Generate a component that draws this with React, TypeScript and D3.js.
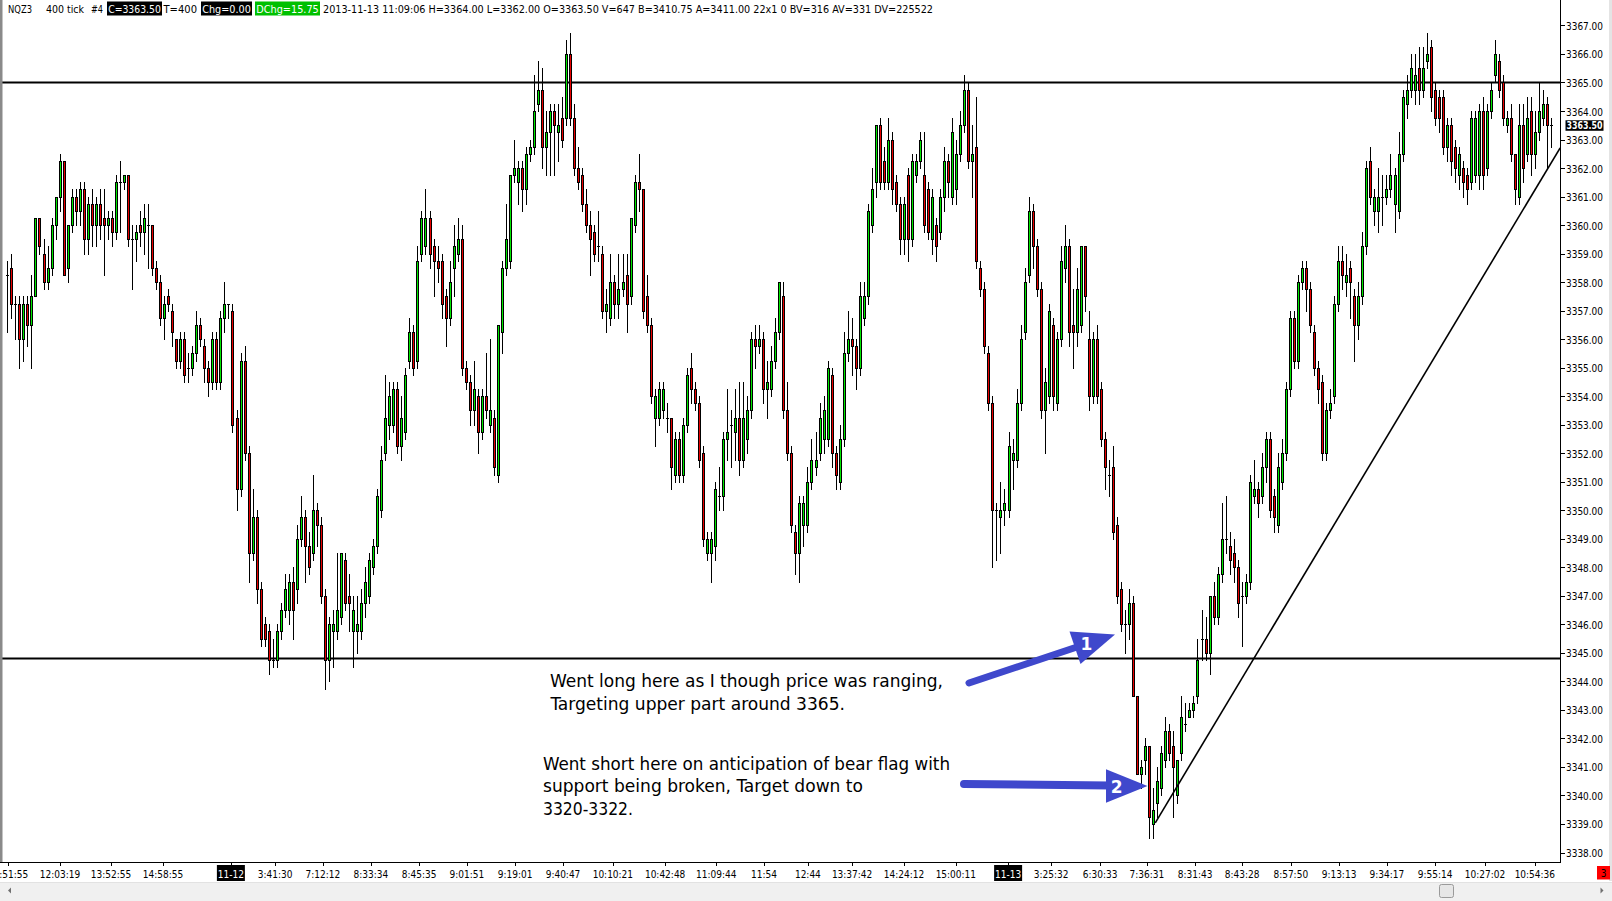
import React from 'react';
import * as d3 from 'd3';

type Candle = [number, number, number, number]; // open, high, low, close

const SEG_A: Candle[] = [
  [3358.25,3358.75,3356.25,3358.25],[3358.5,3359.0,3356.75,3357.25],[3357.25,3357.5,3356.0,3357.25],[3357.25,3357.5,3355.0,3356.0],
  [3356.0,3357.5,3355.25,3357.25],[3357.25,3357.5,3355.75,3356.5],[3356.5,3358.25,3355.0,3357.5],[3357.5,3360.25,3357.5,3360.25],
  [3360.25,3360.25,3359.0,3359.25],[3359.0,3359.5,3357.75,3358.0],[3358.0,3359.25,3357.75,3358.5],[3358.5,3360.25,3358.25,3360.0],
  [3360.0,3361.0,3359.5,3361.0],[3361.0,3362.5,3360.5,3362.25],[3362.25,3362.25,3358.25,3358.25],[3358.5,3360.0,3358.0,3360.0],
  [3360.0,3361.25,3359.75,3361.0],[3361.0,3361.25,3360.0,3360.5],[3360.5,3361.5,3360.0,3361.25],[3361.25,3361.5,3359.0,3359.5],
  [3359.5,3361.0,3359.0,3360.75],[3360.75,3361.25,3359.25,3360.0],[3360.0,3361.0,3359.25,3360.75],[3360.75,3361.25,3359.5,3360.0],
  [3360.25,3361.25,3358.25,3360.0],[3360.0,3360.5,3359.5,3360.25],[3360.25,3360.5,3359.25,3359.75],[3359.75,3361.75,3359.5,3361.5],
  [3361.5,3362.25,3359.75,3361.5],[3361.5,3361.75,3361.25,3361.75],[3361.75,3361.75,3359.25,3359.5],[3359.5,3360.0,3357.75,3359.5],
  [3359.5,3360.0,3358.75,3359.75],[3360.0,3360.5,3359.25,3359.75],[3359.75,3360.75,3359.0,3360.25],[3360.0,3360.75,3358.5,3360.0],
  [3360.0,3360.0,3358.25,3358.5],[3358.5,3358.75,3357.75,3358.0],[3358.0,3358.25,3356.5,3356.75],[3356.75,3357.5,3356.0,3357.25],
  [3357.5,3357.75,3357.0,3357.25],[3357.0,3357.25,3355.75,3356.25],[3356.0,3356.0,3355.0,3355.25],[3355.25,3356.25,3355.0,3356.0],
  [3356.0,3356.25,3354.5,3354.75],[3355.0,3355.5,3354.5,3355.0],[3355.0,3355.75,3354.75,3355.5],[3355.5,3357.0,3355.25,3356.5],
  [3356.5,3356.75,3355.75,3356.0],[3355.75,3356.0,3354.5,3355.0],
];

const SEG_B: Candle[] = [
  [3355.0,3355.25,3354.0,3354.5],[3354.5,3356.25,3354.25,3356.0],[3356.0,3356.25,3354.25,3354.5],[3354.5,3357.0,3354.25,3356.75],
  [3356.75,3358.0,3356.25,3357.25],[3357.25,3357.25,3356.75,3357.25],[3357.0,3357.25,3352.75,3353.0],[3353.25,3353.5,3350.0,3350.75],
  [3350.75,3355.5,3350.5,3355.25],[3355.25,3355.75,3351.75,3352.0],[3352.0,3352.25,3347.5,3348.5],[3348.5,3350.75,3348.25,3349.75],
  [3349.75,3350.0,3346.75,3347.25],[3347.25,3347.5,3345.25,3345.5],[3346.0,3346.25,3345.25,3345.5],[3345.75,3346.0,3344.25,3344.75],
  [3344.75,3345.5,3344.5,3344.75],[3344.75,3346.0,3344.5,3345.75],[3345.75,3346.75,3345.5,3346.5],[3346.5,3347.75,3346.25,3347.25],
  [3346.5,3347.75,3346.0,3347.5],[3347.5,3348.0,3345.5,3346.5],[3347.25,3349.5,3346.75,3349.0],[3349.0,3350.5,3348.75,3349.75],
  [3349.75,3350.0,3347.5,3348.75],[3348.75,3349.25,3347.75,3348.0],[3348.5,3351.25,3348.25,3350.0],[3350.0,3350.25,3348.75,3349.5],
  [3349.5,3349.75,3346.75,3347.0],[3347.0,3347.25,3343.75,3344.75],[3344.75,3346.25,3344.0,3346.0],[3345.75,3346.5,3344.5,3346.0],
  [3345.75,3348.5,3345.5,3346.5],[3346.25,3348.5,3346.0,3348.5],[3348.25,3348.5,3346.5,3346.75],[3347.0,3347.75,3345.75,3346.75],
  [3345.75,3347.0,3344.5,3346.5],[3345.75,3347.0,3345.0,3346.0],[3345.75,3347.25,3345.5,3346.75],[3346.75,3348.0,3346.25,3347.5],
  [3347.0,3348.5,3346.75,3348.25],[3348.0,3349.0,3347.75,3348.75],[3348.75,3350.75,3348.5,3350.5],[3350.0,3352.25,3349.75,3351.75],
  [3352.0,3354.75,3351.75,3353.25],[3353.0,3354.5,3352.5,3354.0],[3353.0,3354.5,3352.75,3354.25],[3354.25,3354.5,3352.0,3352.25],
  [3352.25,3354.0,3351.75,3353.25],[3352.75,3355.0,3352.5,3354.75],
];

const SEG_C: Candle[] = [
  [3355.25,3356.75,3355.0,3356.25],[3356.25,3356.5,3354.75,3355.0],[3355.25,3359.25,3355.0,3358.75],[3359.0,3360.5,3358.75,3360.25],
  [3359.25,3361.25,3359.0,3360.25],[3360.25,3360.5,3358.5,3359.0],[3359.25,3359.5,3357.5,3358.75],[3358.75,3359.25,3358.0,3358.5],
  [3358.75,3359.0,3356.75,3357.25],[3357.5,3357.75,3355.75,3356.75],[3356.75,3358.75,3356.5,3358.0],[3358.5,3360.0,3357.5,3359.25],
  [3359.0,3360.25,3358.75,3359.5],[3359.5,3360.0,3354.75,3355.0],[3355.0,3355.25,3354.25,3354.5],[3354.5,3354.75,3353.0,3353.5],
  [3353.5,3355.25,3353.0,3354.25],[3354.0,3354.25,3352.0,3352.75],[3352.75,3354.25,3352.5,3354.0],[3354.0,3355.5,3353.25,3353.5],
  [3353.0,3356.0,3352.75,3353.5],[3353.25,3353.5,3351.25,3351.5],[3351.25,3356.5,3351.0,3356.5],[3356.25,3358.75,3355.5,3358.5],
  [3358.5,3360.75,3358.25,3359.5],[3358.75,3361.75,3358.5,3361.75],[3361.75,3363.0,3361.5,3362.0],[3361.5,3362.25,3360.75,3362.0],
  [3362.0,3362.25,3360.5,3361.25],[3361.25,3362.75,3360.75,3362.5],[3362.5,3363.0,3362.25,3362.75],[3362.75,3365.25,3362.5,3364.0],
  [3364.25,3365.75,3364.0,3364.75],[3364.75,3365.5,3362.0,3362.75],[3362.75,3364.0,3361.75,3363.25],[3363.25,3364.25,3361.75,3364.0],
  [3364.0,3364.25,3361.75,3363.5],[3363.25,3364.25,3362.25,3363.5],[3363.75,3364.5,3362.75,3363.0],[3363.75,3366.5,3363.5,3366.0],
  [3366.0,3366.75,3363.5,3363.75],[3363.75,3364.25,3361.75,3362.0],[3362.0,3362.75,3361.25,3361.5],[3361.75,3362.0,3360.5,3360.75],
  [3360.75,3361.25,3359.75,3360.0],[3360.0,3360.5,3358.25,3359.5],[3359.75,3360.0,3358.75,3359.0],[3359.25,3360.5,3358.75,3359.25],
  [3359.0,3359.25,3356.75,3357.0],[3357.0,3357.75,3356.25,3357.25],
];

const SEG_D: Candle[] = [
  [3356.75,3359.0,3356.5,3358.0],[3358.0,3358.25,3356.75,3357.25],[3357.25,3359.0,3356.75,3357.75],[3357.75,3359.0,3357.5,3358.0],
  [3358.25,3359.0,3356.25,3357.25],[3357.5,3360.25,3357.25,3360.25],[3360.0,3361.75,3359.75,3361.5],[3361.5,3362.5,3360.5,3361.25],
  [3361.25,3361.25,3356.75,3357.0],[3357.5,3358.25,3356.25,3356.5],[3356.5,3356.75,3353.75,3354.0],[3353.25,3354.25,3352.25,3354.0],
  [3353.25,3354.5,3353.0,3354.25],[3353.5,3354.5,3353.25,3354.25],[3353.25,3353.75,3352.75,3353.25],[3353.25,3353.25,3350.75,3351.5],
  [3351.25,3352.75,3351.0,3352.5],[3352.5,3352.75,3351.0,3351.25],[3351.25,3353.25,3351.0,3353.0],[3353.0,3355.0,3352.75,3354.75],
  [3355.0,3355.5,3353.75,3354.25],[3354.25,3354.5,3353.5,3353.75],[3353.75,3354.0,3351.5,3351.75],[3352.0,3352.25,3348.75,3349.0],
  [3348.5,3349.25,3348.25,3349.0],[3348.5,3349.25,3347.5,3349.0],[3348.75,3351.0,3348.25,3350.75],[3350.5,3351.5,3350.0,3350.5],
  [3350.5,3352.75,3350.0,3352.5],[3352.5,3354.25,3351.75,3352.75],[3353.0,3353.5,3351.5,3353.0],[3352.75,3354.25,3351.75,3353.25],
  [3353.25,3354.5,3351.25,3351.75],[3351.75,3354.5,3351.5,3353.25],[3352.5,3354.0,3352.0,3353.5],[3353.5,3356.25,3353.25,3356.0],
  [3356.0,3356.5,3355.0,3355.75],[3355.75,3356.5,3355.5,3356.0],[3356.0,3356.25,3353.75,3354.25],[3354.25,3355.25,3353.25,3354.5],
  [3354.25,3355.75,3354.0,3355.25],[3355.25,3356.75,3355.0,3356.25],[3356.25,3358.0,3356.0,3358.0],[3357.5,3358.0,3353.25,3353.5],
  [3353.5,3354.5,3351.75,3352.0],[3352.0,3352.25,3349.25,3349.5],[3349.25,3349.5,3347.75,3348.5],[3348.5,3350.5,3347.5,3350.25],
  [3349.5,3350.5,3348.75,3350.25],[3349.5,3351.5,3349.25,3351.0],
];

const SEG_E: Candle[] = [
  [3351.0,3352.5,3350.75,3351.75],[3351.5,3352.75,3351.25,3351.75],[3352.0,3353.75,3351.75,3353.25],[3352.5,3354.0,3352.0,3353.5],
  [3352.5,3355.25,3352.25,3355.0],[3354.75,3355.0,3351.5,3352.0],[3352.0,3352.25,3350.75,3351.25],[3351.0,3353.0,3350.75,3352.5],
  [3352.5,3356.25,3352.25,3355.5],[3355.5,3357.0,3355.25,3356.0],[3356.0,3356.75,3354.75,3355.75],[3355.75,3356.0,3354.25,3355.0],
  [3355.0,3358.0,3354.75,3357.5],[3356.75,3358.0,3356.5,3357.5],[3357.5,3360.75,3357.25,3360.5],[3360.0,3362.0,3359.75,3361.25],
  [3361.5,3363.5,3361.0,3363.5],[3363.5,3363.75,3361.25,3361.5],[3362.25,3362.75,3361.25,3361.5],[3361.5,3363.75,3361.25,3363.0],
  [3363.0,3363.25,3360.75,3361.25],[3361.5,3361.75,3360.5,3360.75],[3360.75,3361.0,3359.0,3359.5],[3359.5,3361.0,3359.0,3360.75],
  [3361.75,3362.0,3358.75,3359.5],[3359.5,3362.5,3359.25,3362.25],[3361.75,3362.5,3361.5,3362.25],[3362.25,3363.25,3362.0,3363.0],
  [3361.75,3363.25,3359.75,3360.0],[3361.25,3361.5,3359.5,3359.75],[3359.5,3361.25,3359.0,3361.0],[3360.0,3360.25,3358.75,3359.25],
  [3359.75,3361.25,3359.5,3361.0],[3361.0,3362.75,3360.5,3362.25],[3362.25,3362.5,3361.0,3361.5],[3361.0,3363.75,3360.75,3363.25],
  [3361.25,3363.0,3360.75,3362.5],[3362.5,3364.0,3362.25,3363.5],[3363.5,3365.25,3363.25,3364.75],[3364.75,3365.0,3362.0,3362.25],
  [3362.25,3363.5,3361.0,3362.5],[3362.75,3364.5,3358.5,3358.75],[3358.5,3358.75,3357.5,3357.75],[3357.75,3358.0,3355.5,3355.75],
  [3355.5,3355.75,3353.5,3353.75],[3353.75,3354.0,3348.0,3350.0],[3350.0,3350.25,3348.25,3350.0],[3349.75,3351.0,3348.5,3350.0],
  [3350.0,3350.75,3349.5,3350.25],[3350.0,3352.75,3349.75,3352.25],
];

const SEG_F: Candle[] = [
  [3351.75,3352.5,3350.75,3352.0],[3351.75,3354.25,3351.5,3353.75],[3353.75,3356.5,3353.5,3356.0],[3356.25,3358.5,3356.0,3358.0],
  [3358.25,3361.0,3358.0,3360.5],[3360.5,3360.75,3358.5,3359.25],[3359.25,3359.5,3357.5,3357.75],[3357.75,3358.0,3353.25,3353.5],
  [3353.5,3355.0,3352.0,3354.5],[3354.0,3357.25,3353.75,3357.0],[3356.5,3356.75,3353.5,3354.0],[3353.75,3356.25,3353.5,3356.0],
  [3356.0,3359.25,3355.75,3358.75],[3358.5,3360.0,3358.0,3359.25],[3359.25,3359.5,3355.75,3356.25],[3356.5,3357.75,3355.0,3356.25],
  [3356.25,3358.5,3355.75,3357.75],[3356.5,3359.25,3356.25,3359.25],[3359.25,3359.25,3357.0,3357.5],[3356.0,3357.0,3353.5,3354.0],
  [3354.0,3356.25,3353.75,3356.0],[3356.0,3356.5,3353.75,3354.0],[3354.25,3354.5,3352.25,3352.5],[3352.5,3352.75,3350.75,3351.5],
  [3351.25,3351.75,3350.5,3351.25],[3351.5,3352.25,3349.0,3349.25],[3349.5,3349.75,3346.75,3347.0],[3347.25,3347.5,3345.75,3346.0],
  [3346.0,3346.5,3345.0,3346.0],[3346.0,3347.25,3345.5,3346.75],[3346.75,3347.0,3343.5,3343.5],[3343.5,3343.5,3340.75,3340.75],
  [3340.75,3341.25,3340.25,3341.0],[3341.25,3342.0,3340.75,3341.75],[3341.75,3341.75,3338.5,3339.25],[3339.0,3340.25,3338.5,3339.5],
  [3339.75,3341.0,3339.25,3340.5],[3340.25,3341.75,3340.0,3341.5],[3341.25,3342.75,3341.0,3342.25],[3342.25,3342.5,3341.25,3341.5],
  [3341.75,3342.25,3339.25,3341.0],[3340.0,3341.25,3339.75,3341.25],[3341.5,3343.5,3341.25,3342.75],[3342.5,3343.25,3342.25,3342.5],
  [3342.75,3343.25,3342.75,3343.0],[3343.0,3343.5,3342.75,3343.25],[3343.5,3345.5,3343.25,3344.75],[3345.5,3346.5,3344.75,3345.5],
  [3345.5,3346.25,3344.75,3345.0],[3345.0,3347.0,3344.25,3347.0],[3347.0,3347.5,3346.0,3346.25],[3346.25,3348.0,3346.0,3347.75],
];

const SEG_G: Candle[] = [
  [3347.75,3350.25,3347.5,3349.0],[3349.0,3350.5,3348.5,3349.0],[3348.75,3349.25,3347.75,3348.25],[3348.5,3349.0,3347.5,3348.0],
  [3348.0,3348.25,3346.25,3346.75],[3347.0,3347.5,3345.25,3347.0],[3347.0,3347.75,3346.75,3347.5],[3347.5,3351.25,3347.25,3351.0],
  [3350.5,3351.75,3350.25,3350.75],[3350.75,3351.0,3349.75,3350.25],[3350.5,3352.0,3350.25,3351.5],[3351.5,3352.75,3351.0,3352.5],
  [3352.5,3352.75,3349.75,3350.0],[3350.5,3350.75,3349.25,3349.75],[3349.5,3352.0,3349.25,3351.5],[3351.0,3352.5,3350.75,3352.0],
  [3352.0,3354.5,3351.75,3354.25],[3354.25,3357.0,3354.0,3356.75],[3356.75,3357.0,3355.0,3355.25],[3355.25,3358.25,3355.0,3358.0],
  [3358.0,3358.75,3357.75,3358.5],[3358.5,3358.75,3357.0,3357.75],[3357.75,3358.0,3356.25,3356.5],[3356.25,3356.5,3354.75,3355.0],
  [3355.0,3355.25,3353.75,3354.25],[3354.5,3354.75,3351.75,3352.0],[3352.0,3353.75,3351.75,3353.5],[3353.5,3354.25,3353.25,3353.75],
  [3354.0,3357.5,3353.75,3357.25],[3357.25,3359.25,3357.0,3358.75],[3358.75,3359.25,3357.75,3358.25],[3358.0,3359.0,3357.5,3358.25],
  [3358.5,3358.75,3356.75,3358.0],[3357.5,3357.75,3355.25,3356.5],[3356.5,3358.0,3356.0,3357.5],[3357.5,3359.75,3357.25,3359.25],
  [3359.25,3362.25,3359.0,3362.0],[3362.25,3362.75,3360.75,3361.0],[3360.5,3361.25,3360.0,3361.0],[3360.5,3362.0,3359.75,3361.0],
  [3361.0,3361.75,3360.0,3361.0],[3361.0,3361.75,3360.75,3361.25],[3361.25,3362.5,3361.0,3361.75],[3360.75,3362.0,3359.75,3361.75],
  [3360.5,3363.25,3360.25,3362.5],[3362.5,3364.75,3362.25,3364.5],[3364.25,3365.25,3363.75,3364.75],[3364.75,3366.0,3364.5,3365.5],
];

const SEG_H: Candle[] = [
  [3364.75,3366.0,3364.25,3365.25],[3365.5,3366.25,3364.25,3364.75],[3364.75,3366.25,3364.5,3365.5],[3365.75,3366.75,3365.5,3366.0],
  [3366.25,3366.5,3364.0,3364.5],[3364.75,3365.0,3363.5,3363.75],[3364.5,3364.75,3363.25,3363.75],[3364.5,3364.75,3362.5,3362.75],
  [3362.75,3363.75,3362.25,3363.5],[3363.5,3363.75,3361.75,3362.25],[3362.75,3363.0,3361.5,3362.0],[3361.75,3362.75,3361.25,3362.5],
  [3362.0,3362.25,3361.0,3361.5],[3361.75,3362.0,3360.75,3361.25],[3361.5,3364.0,3361.25,3363.75],[3361.75,3364.0,3361.5,3363.75],
  [3361.75,3364.25,3361.25,3364.0],[3364.0,3364.5,3361.25,3361.75],[3362.0,3364.25,3361.75,3364.0],[3364.0,3365.0,3363.75,3364.75],
  [3365.25,3366.5,3365.0,3366.0],[3365.75,3366.0,3364.5,3364.75],[3365.0,3365.25,3363.5,3363.75],[3363.5,3364.0,3363.25,3363.75],
  [3363.75,3364.25,3362.25,3362.5],[3362.5,3362.5,3360.75,3361.25],[3361.0,3364.25,3360.75,3363.5],[3363.5,3364.25,3361.5,3362.0],
  [3362.5,3364.5,3362.25,3363.75],[3364.0,3364.5,3361.75,3362.5],[3362.5,3364.0,3362.0,3363.25],[3363.25,3365.0,3363.0,3364.0],
  [3363.75,3364.75,3363.5,3364.25],[3364.25,3364.5,3362.0,3363.5],[3363.5,3363.75,3362.75,3363.5],
];

const CANDLES: Candle[] = [...SEG_A, ...SEG_B, ...SEG_C, ...SEG_D, ...SEG_E, ...SEG_F, ...SEG_G, ...SEG_H];

const PRICE_MIN = 3338;
const PRICE_MAX = 3367;
const PRICE_TICKS = d3.range(PRICE_MIN, PRICE_MAX + 1, 1);
const LAST_PRICE = 3363.5;
const RESISTANCE = 3365.0;
const SUPPORT = 3344.8;
const TREND_START: [number, number] = [285.5, 3339.04];
const TREND_END: [number, number] = [386.2, 3362.71];

const TIME_LABELS = ["11:51:55","12:03:19","13:52:55","14:58:55","11-12","3:41:30","7:12:12","8:33:34","8:45:35","9:01:51","9:19:01","9:40:47","10:10:21","10:42:48","11:09:44","11:54","12:44","13:37:42","14:24:12","15:00:11","11-13","3:25:32","6:30:33","7:36:31","8:31:43","8:43:28","8:57:50","9:13:13","9:34:17","9:55:14","10:27:02","10:54:36"];
const TIME_INDEX = [0.17,13.1,25.8,38.7,55.6,66.6,78.5,90.4,102.4,114.3,126.3,138.2,150.6,163.6,176.3,188.2,199.1,210.1,223.0,235.9,248.9,259.6,271.8,283.4,295.4,307.1,319.2,331.2,343.1,355.1,367.5,379.9];
const SESSION_LABELS = ["11-12", "11-13"];

const HEADER_PLAIN = [
  { text: "NQZ3", x0: 8, x1: 32 },
  { text: "400 tick", x0: 46, x1: 84 },
  { text: "#4", x0: 91, x1: 103 },
  { text: "T=400", x0: 163.5, x1: 197 },
  { text: "2013-11-13 11:09:06 H=3364.00 L=3362.00 O=3363.50 V=647 B=3410.75 A=3411.00 22x1 0 BV=316 AV=331 DV=225522", x0: 323, x1: 933 },
];
const HEADER_BOXES = [
  { text: "C=3363.50", x0: 107, x1: 162, fill: "#000000" },
  { text: "Chg=0.00", x0: 201, x1: 252, fill: "#000000" },
  { text: "DChg=15.75", x0: 255, x1: 320, fill: "#00c000" },
];

const NOTES = [
  { text: "Went long here as I though price was ranging,", x: 550, y: 687, w: 393 },
  { text: "Targeting upper part around 3365.", x: 550.5, y: 709.5, w: 294.5 },
  { text: "Went short here on anticipation of bear flag with", x: 543, y: 769.5, w: 407 },
  { text: "support being broken, Target down to", x: 543, y: 791.5, w: 320 },
  { text: "3320-3322.", x: 543, y: 815, w: 90 },
];

const UP = "#00e800";
const DOWN = "#e80000";
const ARROW = "#3f48cc";
const FONT = "'DejaVu Sans Condensed', 'DejaVu Sans', sans-serif";

const W = 1612;
const H = 901;
const AXIS_X = 1560;
const AXIS_Y = 862;

export default function App() {
  const x = d3.scaleLinear().domain([0, CANDLES.length - 1]).range([7.33, 1551.33]);
  const y = d3.scaleLinear().domain([PRICE_MIN, PRICE_MAX]).range([852.5, 25.46]);
  const trend = d3.line<[number, number]>().x(d => x(d[0])).y(d => y(d[1]));

  return (
    <svg width={W} height={H} style={{ position: 'absolute', left: 0, top: 0, background: '#fff' }} fontFamily={FONT}>
      <rect x={0} y={0} width={W} height={H} fill="#ffffff" />
      <defs>
        <clipPath id="plot">
          <rect x={2} y={0} width={AXIS_X - 2} height={AXIS_Y} />
        </clipPath>
      </defs>

      {/* header */}
      {HEADER_BOXES.map((b, i) => (
        <g key={'hb' + i}>
          <rect x={b.x0} y={1.5} width={b.x1 - b.x0} height={14} fill={b.fill} />
          <text x={b.x0 + 1.2} y={13} fontSize={11} fill="#fff" textLength={b.x1 - b.x0 - 2.4} lengthAdjust="spacingAndGlyphs">{b.text}</text>
        </g>
      ))}
      {HEADER_PLAIN.map((t, i) => (
        <text key={'hp' + i} x={t.x0} y={13} fontSize={11} fill="#000" textLength={t.x1 - t.x0} lengthAdjust="spacingAndGlyphs">{t.text}</text>
      ))}

      <g clipPath="url(#plot)">
        {/* horizontal levels */}
        <line x1={2} x2={AXIS_X} y1={y(RESISTANCE)} y2={y(RESISTANCE)} stroke="#000" strokeWidth={2} />
        <line x1={2} x2={AXIS_X} y1={y(SUPPORT)} y2={y(SUPPORT)} stroke="#000" strokeWidth={2} />

        {/* candles */}
        <g shapeRendering="crispEdges">
          {CANDLES.map(([o, h, l, c], i) => {
            const cx = Math.round(x(i));
            const top = Math.max(o, c);
            const bot = Math.min(o, c);
            const yt = Math.round(y(top)) + 0.5;
            const yb = Math.round(y(bot)) + 0.5;
            const yh = Math.round(y(Math.max(h, top)));
            const yl = Math.round(y(Math.min(l, bot))) + 1;
            return (
              <g key={i}>
                <line x1={cx + 0.5} x2={cx + 0.5} y1={yh} y2={yl} stroke="#000" strokeWidth={1} />
                {o === c ? (
                  <line x1={cx - 1} x2={cx + 2} y1={yt} y2={yt} stroke="#000" strokeWidth={1} />
                ) : (
                  <rect x={cx - 0.5} y={yt} width={2} height={yb - yt} fill={c > o ? UP : DOWN} stroke="#000" strokeWidth={1} />
                )}
              </g>
            );
          })}
        </g>

        {/* trend line */}
        <path d={trend([TREND_START, TREND_END]) || ''} fill="none" stroke="#000" strokeWidth={1.6} />
      </g>

      {/* annotations */}
      {NOTES.map((n, i) => (
        <text key={'n' + i} x={n.x} y={n.y} fontSize={17.5} fill="#000" textLength={n.w} lengthAdjust="spacingAndGlyphs">{n.text}</text>
      ))}

      {/* arrow 1 */}
      <line x1={969} y1={683} x2={1080} y2={646} stroke={ARROW} strokeWidth={7} strokeLinecap="round" />
      <polygon points="1069.5,631.5 1115,634.5 1080.5,664" fill={ARROW} />
      <text x={1086.5} y={650} fontSize={17} fontWeight="bold" fill="#fff" textAnchor="middle" fontFamily="'DejaVu Sans', sans-serif">1</text>
      {/* arrow 2 */}
      <line x1={964} y1={784} x2={1110} y2={785.5} stroke={ARROW} strokeWidth={8} strokeLinecap="round" />
      <polygon points="1106,769.3 1147.5,786 1106,802.7" fill={ARROW} />
      <text x={1116.7} y={792.5} fontSize={17} fontWeight="bold" fill="#fff" textAnchor="middle" fontFamily="'DejaVu Sans', sans-serif">2</text>

      {/* price axis */}
      <line x1={AXIS_X + 0.5} x2={AXIS_X + 0.5} y1={0} y2={AXIS_Y + 1} stroke="#000" shapeRendering="crispEdges" />
      {PRICE_TICKS.map(p => (
        <g key={'p' + p}>
          <line x1={AXIS_X} x2={AXIS_X + 5} y1={Math.round(y(p)) + 0.5} y2={Math.round(y(p)) + 0.5} stroke="#000" shapeRendering="crispEdges" />
          <text x={1566} y={y(p) + 4.5} fontSize={10} fill="#000" textLength={37} lengthAdjust="spacingAndGlyphs">{p.toFixed(2)}</text>
        </g>
      ))}
      <rect x={1565.5} y={y(LAST_PRICE) - 5} width={38} height={10.5} fill="#000" />
      <text x={1566.5} y={y(LAST_PRICE) + 4} fontSize={10} fontWeight="bold" fill="#fff" textLength={36} lengthAdjust="spacingAndGlyphs">{LAST_PRICE.toFixed(2)}</text>

      {/* time axis */}
      <line x1={0} x2={AXIS_X + 1} y1={AXIS_Y + 0.5} y2={AXIS_Y + 0.5} stroke="#000" shapeRendering="crispEdges" />
      {TIME_LABELS.map((t, i) => {
        const tx = x(TIME_INDEX[i]);
        const session = SESSION_LABELS.includes(t);
        return (
          <g key={'t' + i}>
            <line x1={Math.round(tx) + 0.5} x2={Math.round(tx) + 0.5} y1={AXIS_Y} y2={AXIS_Y + 4} stroke="#000" shapeRendering="crispEdges" />
            {session && <rect x={tx - 14} y={865} width={28} height={16} fill="#000" />}
            <text x={tx} y={878} fontSize={10} fill={session ? '#fff' : '#000'} textAnchor="middle">{t}</text>
          </g>
        );
      })}

      {/* borders */}
      <rect x={0} y={0} width={2.5} height={AXIS_Y} fill="#8a8a8a" />
      <rect x={1609} y={0} width={3} height={881} fill="#e4e4e4" />
      <rect x={1597} y={866} width={13} height={13.5} fill="#ff0000" />
      <text x={1603.5} y={877} fontSize={10} fill="#000" textAnchor="middle">3</text>

      {/* scrollbar */}
      <rect x={0} y={882} width={W} height={19} fill="#f0f0f0" />
      <line x1={0} x2={W} y1={882.5} y2={882.5} stroke="#e2e2e2" />
      <polygon points="8,890.5 11,887.5 11,893.5" fill="#707070" />
      <polygon points="1603.5,890.5 1600.5,887.5 1600.5,893.5" fill="#707070" />
      <rect x={1439.5} y={884.5} width={14} height={13} rx={2} fill="#e6e6e6" stroke="#9a9a9a" />
    </svg>
  );
}
